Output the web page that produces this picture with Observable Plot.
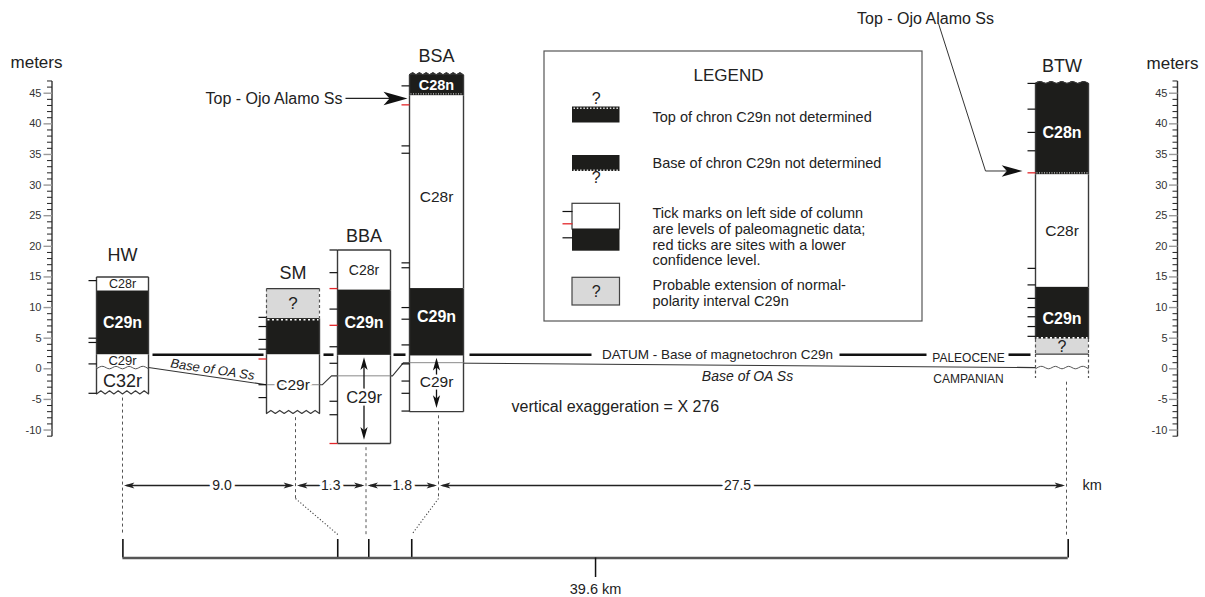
<!DOCTYPE html>
<html><head><meta charset="utf-8">
<script src="https://cdn.jsdelivr.net/npm/d3@7"></script>
<script src="https://cdn.jsdelivr.net/npm/@observablehq/plot@0.6"></script>
<style>
html,body{margin:0;padding:0;background:#fff;}
#wrap{position:relative;width:1205px;height:597px;overflow:hidden;background:#fff;}
#wrap svg{position:absolute;left:0;top:0;}
</style></head><body><div id="wrap"></div>
<script>
// ---------------- data (metres on the section scale) ----------------
const columnNames = ["HW", "SM", "BBA", "BSA", "BTW"];
// [chron, top m, base m, polarity]  N normal (black), R reversed (white), Q probable C29n extension (grey), U undetermined
const unitsHW  = [["C28r", 15.0, 12.7, "R"], ["C29n", 12.7, 2.3, "N"], ["C29r", 2.3, 0.2, "R"], ["C32r", 0.2, -4.1, "R"]];
const unitsSM  = [["?", 13.1, 8.2, "Q"], ["", 8.2, 2.3, "N"], ["C29r", 2.3, -7.3, "R"]];
const unitsBBA = [["C28r", 19.4, 12.85, "R"], ["C29n", 12.85, 2.2, "N"], ["C29r", 2.2, -12.2, "R"]];
const unitsBSA = [["C28n", 48.0, 44.6, "N"], ["C28r", 44.6, 13.1, "R"], ["C29n", 13.1, 2.1, "N"], ["C29r", 2.1, -7.0, "R"]];
const unitsBTW = [["C28n", 46.6, 31.7, "N"], ["C28r", 31.7, 13.3, "R"], ["C29n", 13.3, 4.85, "N"], ["?", 4.85, 2.4, "Q"], ["", 2.4, -1.5, "U"]];
// paleomagnetic site levels (black) and low-confidence sites (red)
const sitesHW  = [14.4, 5.0, 4.3, 0.8, -4.0];
const sitesSM  = [8.4, 6.9, 4.8, 3.2, -2.6, -4.7];
const sitesBBA = [19.4, 15.7, 9.75, 3.6, 0.9, -5.3, -7.5];
const sitesBSA = [46.2, 36.4, 35.2, 17.3, 16.5, 10.0, 8.1, 3.9, 0.8, -2.0, -4.0, -6.9];
const sitesBTW = [46.6, 42.4, 38.6, 35.6, 16.4, 13.7, 11.5, 10.0, 8.5, 6.9, 5.3];
const redHW = [], redSM = [1.6], redBBA = [13.1, 7.1, -12.2], redBSA = [43.1], redBTW = [32.0];
const datumM = 2.3;                               // base of magnetochron C29n
const oaBaseM = [0.2, -2.6, -1.15, 1.0, 0.2];     // base of Ojo Alamo Ss per column
const ojoTopBSA = 44.15, ojoTopBTW = 32.3;        // top of Ojo Alamo Ss
const distancesKm = [9.0, 1.3, 1.8, 27.5];
const meterLabels = [-10, -5, 0, 5, 10, 15, 20, 25, 30, 35, 40, 45];
const legendLines = [
  ["Top of chron C29n not determined"],
  ["Base of chron C29n not determined"],
  ["Tick marks on left side of column", "are levels of paleomagnetic data;", "red ticks are sites with a lower", "confidence level."],
  ["Probable extension of normal-", "polarity interval C29n"]
];

// ---------------- layout ----------------
const W = 1205, H = 597;
const FONT = "'Liberation Sans', Arial, Helvetica, sans-serif";
const INK = "#222", RED = "#e3262a", EDGE = "#3a3a3a";
const FILL = {N: "#1d1d1b", R: "#ffffff", Q: "#d9d9d9", U: "#ffffff"};
const Y0 = 368.3, PXM = 6.124;
const mAt = px => (Y0 - px) / PXM;              // layout row (px) expressed on the metre scale
const colBox = {HW: [96, 148], SM: [266, 319], BBA: [337, 390], BSA: [409, 463], BTW: [1035, 1088]};
const titleRow = {HW: 255, SM: 273, BBA: 236, BSA: 56, BTW: 66};
const guideX = {HW: 122, SM: 295, BBA: 365.5, BSA: 438, BTW: 1066};
const guideEnd = {HW: 535, SM: 498, BBA: 535, BSA: 498, BTW: 535};
const edgeTop = {HW: "line", SM: "line", BBA: "line", BSA: "zig", BTW: "wave"};
const edgeBottom = {HW: "zig", SM: "zig", BBA: "line", BSA: "line", BTW: "none"};
const labelLevel = {"BSA C28r": 28.0, "BTW C28n": 38.5, "BTW C29n": 8.1, "BSA C29n": 8.4, "SM C29r": -2.6, "BBA C29r": -4.7, "BSA C29r": -2.2};
const labelSize = {"HW C28r": 12.5, "HW C29r": 13, "HW C32r": 18, "BBA C28r": 14, "BBA C29r": 16.5, "BSA C28n": 14.5, "SM ?": 17, "BTW ?": 16};
const haloLabels = new Set(["SM C29r", "BBA C29r", "BSA C29r"]);
const arrowCols = ["BBA", "BSA"];
const distLabelShift = [13, 0, 0, -15];

const unitsByCol = {HW: unitsHW, SM: unitsSM, BBA: unitsBBA, BSA: unitsBSA, BTW: unitsBTW};
const sitesByCol = {HW: sitesHW, SM: sitesSM, BBA: sitesBBA, BSA: sitesBSA, BTW: sitesBTW};
const redByCol = {HW: redHW, SM: redSM, BBA: redBBA, BSA: redBSA, BTW: redBTW};

// filled, notched arrow head pointing up with its tip at the origin
const arrowHead = {draw(ctx, size) {
  const r = Math.sqrt(size / Math.PI);
  ctx.moveTo(0, 0); ctx.lineTo(0.45 * r, 1.6 * r); ctx.lineTo(0, 1.2 * r); ctx.lineTo(-0.45 * r, 1.6 * r); ctx.closePath();
}};
function zigPts(xa, xb, level, amp, n) {
  const p = []; for (let i = 0; i <= 2 * n; i++) p.push([xa + (xb - xa) * i / (2 * n), level + (i % 2 ? amp : 0)]); return p;
}
function wavePts(xa, xb, level, amp, n) {
  const p = []; for (let i = 0; i <= 2 * n; i++) p.push([xa + (xb - xa) * i / (2 * n), level + (i % 2 ? amp : -amp)]); return p;
}
const T = (o) => Object.assign({fontFamily: FONT, fill: INK}, o);
const hline = (data, xa, xb, o) => Plot.link(data, Object.assign({x1: xa, x2: xb, y1: d => d, y2: d => d}, o));

const marks = [];

// ---- metre axes ----
function meterAxis(xa, labelRight, titleX, titleY) {
  const minor = d3.range(-11, 48).filter(v => v % 5 !== 0);
  return [
    Plot.link([0], {x1: xa, x2: xa, y1: -11, y2: 47, stroke: "#333", strokeWidth: 1.4}),
    hline(minor, xa - 5, xa, {stroke: "#222", strokeWidth: 1}),
    hline(meterLabels, xa - 8.5, xa, {stroke: "#9a9a9a", strokeWidth: 1.4}),
    Plot.text(meterLabels, T({x: labelRight, y: d => d, text: d => String(d), textAnchor: "end", fontSize: 11, fill: "#333"})),
    Plot.text(["meters"], T({x: titleX, y: mAt(titleY), text: d => d, fontSize: 17}))
  ];
}
marks.push(...meterAxis(51.5, 41, 36, 62), ...meterAxis(1177, 1167, 1172, 63));

// ---- datum line ----
const datumSegs = [[152, 263], [323, 333], [393, 405], [469, 591], [839, 926], [1008, 1030]];
marks.push(Plot.link(datumSegs, {x1: d => d[0], x2: d => d[1], y1: datumM, y2: datumM, stroke: "#111", strokeWidth: 2.6}));

// ---- base of Ojo Alamo Ss ----
const oaPts = [
  [colBox.HW[1], oaBaseM[0]], [colBox.SM[0], oaBaseM[1]], [colBox.SM[1] + 3, oaBaseM[1]],
  [colBox.BBA[0] - 6, oaBaseM[2]], [colBox.BBA[1] + 2, oaBaseM[2]], [colBox.BSA[0] - 6, oaBaseM[3]], [colBox.BTW[0], oaBaseM[4]]
];
marks.push(Plot.line(oaPts, {x: d => d[0], y: d => d[1], stroke: "#333", strokeWidth: 1.1}));

// ---- columns ----
const labels = [], haloes = [];
columnNames.forEach((name, ci) => {
  const units = unitsByCol[name];
  const [xa, xb] = colBox[name];
  const xc = (xa + xb) / 2;
  const top = units[0][1], base = units[units.length - 1][2];
  for (const k of ["R", "U", "Q", "N"]) {
    const u = units.filter(d => d[3] === k);
    if (u.length) marks.push(Plot.rect(u, {x1: xa, x2: xb, y1: d => d[1], y2: d => d[2], fill: FILL[k]}));
  }
  // top edge
  const et = edgeTop[name];
  if (et === "line") marks.push(hline([top], xa, xb, {stroke: EDGE, strokeWidth: 1.4}));
  else {
    const pts = et === "zig" ? zigPts(xa, xb, top, 0.35, 8) : wavePts(xa, xb, top + 0.15, 0.15, 5);
    const curve = et === "zig" ? "linear" : "natural";
    marks.push(Plot.areaY(pts, {x: d => d[0], y1: top - 0.05, y2: d => d[1], fill: FILL[units[0][3]], curve}));
    marks.push(Plot.line(pts, Object.assign({x: d => d[0], y: d => d[1], stroke: EDGE, strokeWidth: 1.1, curve}, et === "wave" ? {strokeDasharray: "3,1.5"} : {})));
  }
  // bottom edge
  const eb = edgeBottom[name];
  if (eb === "line") marks.push(hline([base], xa, xb, {stroke: EDGE, strokeWidth: 1.4}));
  else if (eb === "zig") marks.push(Plot.line(zigPts(xa, xb, base, 0.5, 6), {x: d => d[0], y: d => d[1], stroke: EDGE, strokeWidth: 1.2}));
  // sides
  const sideSolid = [], sideDash = [];
  for (const u of units) for (const x of [xa, xb]) (u[3] === "Q" || u[3] === "U" ? sideDash : sideSolid).push({x, y1: u[1], y2: u[2]});
  marks.push(Plot.link(sideSolid, {x1: "x", x2: "x", y1: "y1", y2: "y2", stroke: EDGE, strokeWidth: 1.4}));
  if (sideDash.length) marks.push(Plot.link(sideDash, {x1: "x", x2: "x", y1: "y1", y2: "y2", stroke: "#555", strokeWidth: 1.2, strokeDasharray: "3,2.5"}));
  // boundaries
  for (let i = 0; i < units.length - 1; i++) {
    const a = units[i], b = units[i + 1], lvl = a[2], pair = a[3] + b[3];
    if (pair === "QN") marks.push(hline([lvl - 0.2], xa + 1, xb - 1, {stroke: "#fff", strokeWidth: 1.6, strokeDasharray: "2,2.5"}));
    if (pair === "NQ") marks.push(hline([lvl + 0.2], xa + 1, xb - 1, {stroke: "#fff", strokeWidth: 1.6, strokeDasharray: "2,2.5"}));
    if (pair === "QU") marks.push(hline([lvl], xa, xb, {stroke: EDGE, strokeWidth: 1.2}));
    if (a[0] === "C28n") marks.push(hline([lvl + 0.3], xa + 1, xb - 1, {stroke: "#c8c8c8", strokeWidth: 1.4, strokeDasharray: "1,1.5"}));
  }
  // base of OA Ss inside the column
  if (name === "HW" || name === "BTW") {
    marks.push(Plot.line(wavePts(xa, xb, oaBaseM[ci], 0.2, 4), {x: d => d[0], y: d => d[1], stroke: "#555", strokeWidth: 1, curve: "natural"}));
  } else {
    marks.push(hline([oaBaseM[ci]], xa, xb, {stroke: "#8a8a8a", strokeWidth: 1}));
  }
  // site ticks
  marks.push(hline(sitesByCol[name], xa - 8, xa, {stroke: "#111", strokeWidth: 1.2}));
  marks.push(hline(redByCol[name], xa - 8, xa, {stroke: RED, strokeWidth: 1.3}));
  // arrows showing C29r continues
  if (arrowCols.includes(name)) {
    const u = units.find(d => d[0] === "C29r");
    const up = u[1] - 0.3, down = u[2] + 0.6;
    marks.push(Plot.link([0], {x1: xc, x2: xc, y1: up - 1.5, y2: down + 1.5, stroke: "#111", strokeWidth: 1.3}));
    marks.push(Plot.dot([up], {x: xc, y: d => d, symbol: arrowHead, r: 8, rotate: 0, fill: "#111", stroke: "none"}));
    marks.push(Plot.dot([down], {x: xc, y: d => d, symbol: arrowHead, r: 8, rotate: 180, fill: "#111", stroke: "none"}));
  }
  // labels
  for (const u of units) {
    if (!u[0]) continue;
    const key = name + " " + u[0];
    const lab = {x: xc, y: labelLevel[key] ?? (u[1] + u[2]) / 2, text: u[0], size: labelSize[key] ?? (u[3] === "N" ? 16 : 15.5), kind: u[3]};
    labels.push(lab);
    if (haloLabels.has(key)) haloes.push(lab);
  }
});

marks.push(Plot.text(haloes, T({x: "x", y: "y", text: "text", fontSize: "size", fill: "#fff", stroke: "#fff", strokeWidth: 5})));
marks.push(Plot.text(labels.filter(d => d.kind !== "N"), T({x: "x", y: "y", text: "text", fontSize: "size"})));
marks.push(Plot.text(labels.filter(d => d.kind === "N"), T({x: "x", y: "y", text: "text", fontSize: "size", fontWeight: "bold", fill: "#fff"})));

// column titles
marks.push(Plot.text(columnNames, T({x: d => (colBox[d][0] + colBox[d][1]) / 2, y: d => mAt(titleRow[d]), text: d => d, fontSize: 18})));

// ---- Top - Ojo Alamo Ss ----
marks.push(Plot.text(["Top - Ojo Alamo Ss"], T({x: 342, y: ojoTopBSA, text: d => d, textAnchor: "end", fontSize: 16})));
marks.push(Plot.link([ojoTopBSA], {x1: 345, x2: 390, y1: d => d, y2: d => d, stroke: "#222", strokeWidth: 1.2}));
marks.push(Plot.dot([ojoTopBSA], {x: colBox.BSA[0] - 2, y: d => d, symbol: arrowHead, r: 15, rotate: 90, fill: "#111", stroke: "none"}));
marks.push(Plot.text(["Top - Ojo Alamo Ss"], T({x: 925, y: mAt(18), text: d => d, fontSize: 16})));
marks.push(Plot.line([[938, mAt(23)], [985, ojoTopBTW], [1008, ojoTopBTW]], {x: d => d[0], y: d => d[1], stroke: "#333", strokeWidth: 1}));
marks.push(Plot.dot([ojoTopBTW], {x: colBox.BTW[0] - 13, y: d => d, symbol: arrowHead, r: 13, rotate: 90, fill: "#111", stroke: "none"}));

// ---- other annotations ----
marks.push(Plot.text(["DATUM - Base of magnetochron C29n"], T({x: 717, y: datumM, text: d => d, fontSize: 13.5})));
marks.push(Plot.text(["PALEOCENE"], T({x: 968, y: mAt(358), text: d => d, fontSize: 12})));
marks.push(Plot.text(["CAMPANIAN"], T({x: 968, y: mAt(379), text: d => d, fontSize: 12})));
marks.push(Plot.text(["Base of OA Ss"], T({x: 747, y: mAt(376), text: d => d, fontSize: 14, fontStyle: "italic"})));
marks.push(Plot.text(["Base of OA Ss"], T({x: 212, y: mAt(369), text: d => d, fontSize: 13, fontStyle: "italic", rotate: 8.5})));
marks.push(Plot.text(["vertical exaggeration = X 276"], T({x: 511, y: mAt(406.7), text: d => d, textAnchor: "start", fontSize: 16})));

// ---- legend ----
marks.push(Plot.rect([0], {x1: 544, x2: 922, y1: mAt(51), y2: mAt(321), fill: "none", stroke: "#555", strokeWidth: 1.2}));
marks.push(Plot.text(["LEGEND"], T({x: 728, y: mAt(75), text: d => d, fontSize: 17})));
const lgX1 = 572, lgX2 = 619.5, lgXc = (lgX1 + lgX2) / 2;
marks.push(Plot.rect([[106.5, 122.5], [155, 171]], {x1: lgX1, x2: lgX2, y1: d => mAt(d[0]), y2: d => mAt(d[1]), fill: FILL.N}));
marks.push(Plot.link([107.8, 169.7], {x1: lgX1 + 1, x2: lgX2 - 1, y1: d => mAt(d), y2: d => mAt(d), stroke: "#ddd", strokeWidth: 1.4, strokeDasharray: "1.5,1.8"}));
marks.push(Plot.text([98, 177], T({x: lgXc, y: d => mAt(d), text: () => "?", fontSize: 16})));
marks.push(Plot.rect([0], {x1: lgX1, x2: lgX2, y1: mAt(203.3), y2: mAt(229), fill: "#fff", stroke: EDGE, strokeWidth: 1.2}));
marks.push(Plot.rect([0], {x1: lgX1, x2: lgX2, y1: mAt(229), y2: mAt(250.7), fill: FILL.N}));
marks.push(Plot.link([211, 237.3], {x1: lgX1 - 10, x2: lgX1, y1: d => mAt(d), y2: d => mAt(d), stroke: "#111", strokeWidth: 1.2}));
marks.push(Plot.link([223.3], {x1: lgX1 - 10, x2: lgX1, y1: d => mAt(d), y2: d => mAt(d), stroke: RED, strokeWidth: 1.3}));
marks.push(Plot.rect([0], {x1: lgX1, x2: lgX2, y1: mAt(277.3), y2: mAt(305), fill: FILL.Q, stroke: "#444", strokeWidth: 1.2}));
marks.push(Plot.text(["?"], T({x: lgXc, y: mAt(291), text: d => d, fontSize: 16})));
const legendRows = [[116.7], [163.3], [213.3, 229, 244.5, 260], [285, 300.5]];
const legendItems = legendLines.flatMap((lines, i) => lines.map((t, j) => ({t, row: legendRows[i][j]})));
marks.push(Plot.text(legendItems, T({x: 652, y: d => mAt(d.row), text: "t", textAnchor: "start", fontSize: 14.5})));

// ---- distances between sections ----
const rowY = mAt(485);
const segs = distancesKm.map((km, i) => ({km, i, x1: guideX[columnNames[i]], x2: guideX[columnNames[i + 1]]}));
marks.push(Plot.link(columnNames, {x1: d => guideX[d], x2: d => guideX[d],
  y1: d => unitsByCol[d][unitsByCol[d].length - 1][2] - 0.6, y2: d => mAt(guideEnd[d]),
  stroke: "#555", strokeWidth: 1, strokeDasharray: "3,3"}));
marks.push(Plot.link(segs, {x1: d => d.x1 + 4, x2: d => d.x2 - 4, y1: rowY, y2: rowY, stroke: "#222", strokeWidth: 1.4}));
marks.push(Plot.dot(segs, {x: d => d.x1 + 1.5, y: rowY, symbol: arrowHead, r: 6.5, rotate: -90, fill: "#222", stroke: "none"}));
marks.push(Plot.dot(segs, {x: d => d.x2 - 1.5, y: rowY, symbol: arrowHead, r: 6.5, rotate: 90, fill: "#222", stroke: "none"}));
const segX = d => (d.x1 + d.x2) / 2 + distLabelShift[d.i];
marks.push(Plot.text(segs, T({x: segX, y: rowY, text: d => d.km.toFixed(1), fontSize: 14, fill: "#fff", stroke: "#fff", strokeWidth: 7})));
marks.push(Plot.text(segs, T({x: segX, y: rowY, text: d => d.km.toFixed(1), fontSize: 14})));
marks.push(Plot.text(["km"], T({x: 1082, y: rowY, text: d => d, textAnchor: "start", fontSize: 14.5})));

const main = Plot.plot({
  width: W, height: H, margin: 0,
  x: {domain: [0, W], range: [0, W], axis: null},
  y: {domain: [mAt(H), mAt(0)], range: [H, 0], axis: null},
  style: {background: "#fff", fontFamily: FONT, overflow: "visible"},
  marks
});

// ---- km scale bar (x in kilometres) ----
const cumKm = d3.cumsum(distancesKm);
const stationKm = [0, ...cumKm];
const totalKm = cumKm[cumKm.length - 1];
const kmX = {domain: [0, totalKm], range: [122.4, 1067.7]};
const kmScale = Plot.scale({x: kmX});
const diag = [{from: guideX.SM, km: cumKm[0]}, {from: guideX.BSA, km: cumKm[2]}];
const bar = Plot.plot({
  width: W, height: H, margin: 0,
  x: Object.assign({axis: null}, kmX),
  y: {domain: [0, H], range: [0, H], axis: null},
  style: {background: "transparent", fontFamily: FONT, overflow: "visible"},
  marks: [
    Plot.link(diag, {x1: d => kmScale.invert(d.from), y1: 498, x2: d => d.km, y2: 534, stroke: "#444", strokeWidth: 1.1, strokeDasharray: "1.2,2"}),
    Plot.ruleX(stationKm, {x: d => d, y1: 539, y2: 557.5, stroke: "#111", strokeWidth: 1.6}),
    Plot.ruleY([557.5], {x1: 0, x2: totalKm, stroke: "#555", strokeWidth: 2.4}),
    Plot.ruleX([totalKm / 2], {x: d => d, y1: 557.5, y2: 577, stroke: "#111", strokeWidth: 1.5}),
    Plot.text([totalKm], T({x: d => d / 2, y: 589, text: d => `${d.toFixed(1)} km`, fontSize: 14.5}))
  ]
});

const wrap = document.getElementById("wrap");
wrap.appendChild(main);
wrap.appendChild(bar);
</script></body></html>
